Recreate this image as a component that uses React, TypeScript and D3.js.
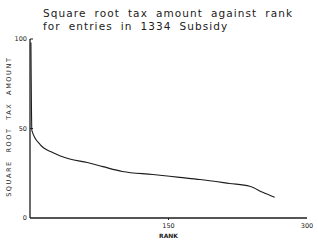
import React, { useEffect, useRef } from "react";
import * as d3 from "d3";

// rank vs square root of tax amount
const ranks = [1, 2, 11, 25, 43, 62, 79, 100, 133, 162, 184, 216, 238, 252, 265];
const sqrtTax = [98, 49, 41, 36.5, 33, 31, 28.7, 26, 24.3, 22.7, 21.5, 19.3, 17.7, 14.4, 11.6];
const yTicks = [0, 50, 100];
const xTicks = [150, 300];
const titleLines = ["Square root tax amount against rank", "for entries in 1334 Subsidy"];

const W = 318;
const H = 249;

const App = () => {
  const ref = useRef<SVGSVGElement>(null);

  useEffect(() => {
    const svg = d3.select(ref.current);
    svg.selectAll("*").remove();

    const x = d3.scaleLinear().domain([0, 300]).range([30, 307]);
    const y = d3.scaleLinear().domain([0, 100]).range([218, 39]);
    const font = "'DejaVu Sans', sans-serif";
    const ink = "#1c1c1c";

    // title
    svg
      .append("g")
      .selectAll("text")
      .data(titleLines)
      .enter()
      .append("text")
      .attr("x", 43)
      .attr("y", (d, i) => 17 + i * 13)
      .attr("font-family", font)
      .attr("font-size", 10.5)
      .attr("letter-spacing", 1.1)
      .attr("word-spacing", 3.5)
      .attr("fill", ink)
      .text(d => d);

    // axes
    svg
      .append("line")
      .attr("x1", x(0))
      .attr("x2", x(0))
      .attr("y1", y(0))
      .attr("y2", y(100))
      .attr("stroke", ink)
      .attr("stroke-width", 1.3);
    svg
      .append("line")
      .attr("x1", x(0))
      .attr("x2", x(300))
      .attr("y1", y(0))
      .attr("y2", y(0))
      .attr("stroke", ink)
      .attr("stroke-width", 1.3);

    // y ticks
    const yt = svg.append("g");
    yt.selectAll("line")
      .data(yTicks.filter(d => d > 0))
      .enter()
      .append("line")
      .attr("x1", x(0))
      .attr("x2", x(0) + 3)
      .attr("y1", d => y(d))
      .attr("y2", d => y(d))
      .attr("stroke", ink);
    yt.selectAll("text")
      .data(yTicks)
      .enter()
      .append("text")
      .attr("x", x(0) - 3)
      .attr("y", d => y(d) + 2)
      .attr("text-anchor", "end")
      .attr("font-family", font)
      .attr("font-size", 6.5)
      .attr("fill", ink)
      .text(d => d);

    // x ticks
    const xt = svg.append("g");
    xt.selectAll("line")
      .data(xTicks.filter(d => d < 300))
      .enter()
      .append("line")
      .attr("x1", d => x(d))
      .attr("x2", d => x(d))
      .attr("y1", y(0))
      .attr("y2", y(0) + 2)
      .attr("stroke", ink);
    xt.selectAll("text")
      .data(xTicks)
      .enter()
      .append("text")
      .attr("x", d => x(d))
      .attr("y", y(0) + 10)
      .attr("text-anchor", "middle")
      .attr("font-family", font)
      .attr("font-size", 6.5)
      .attr("fill", ink)
      .text(d => d);

    // axis titles
    svg
      .append("text")
      .attr("x", x(150))
      .attr("y", y(0) + 20)
      .attr("text-anchor", "middle")
      .attr("font-family", font)
      .attr("font-size", 6)
      .attr("font-weight", "bold")
      .attr("fill", ink)
      .text("RANK");
    svg
      .append("text")
      .attr("transform", `translate(11, ${y(51)}) rotate(-90)`)
      .attr("text-anchor", "middle")
      .attr("font-family", font)
      .attr("font-size", 6.5)
      .attr("letter-spacing", 1.6)
      .attr("word-spacing", 4)
      .attr("fill", ink)
      .text("SQUARE ROOT TAX AMOUNT");

    // curve
    const pts = ranks.map((r, i) => [r, sqrtTax[i]] as [number, number]);
    const line = d3
      .line<[number, number]>()
      .x(d => x(d[0]))
      .y(d => y(d[1]))
      .curve(d3.curveMonotoneX);
    svg
      .append("path")
      .attr("d", line(pts))
      .attr("fill", "none")
      .attr("stroke", ink)
      .attr("stroke-width", 1.1);
  }, []);

  return (
    <svg
      ref={ref}
      width={W}
      height={H}
      style={{ position: "absolute", left: 0, top: 0, background: "#fff" }}
    />
  );
};

export default App;
